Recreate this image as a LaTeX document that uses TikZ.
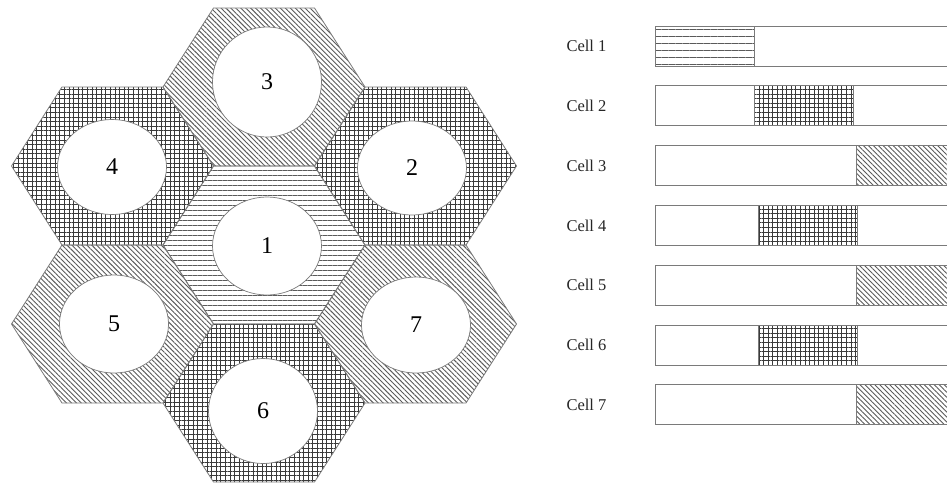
\documentclass[tikz,border=0pt]{standalone}
\usepackage{fontspec}
\setmainfont{Liberation Serif}
\usepackage{xcolor}
\definecolor{celledge}{HTML}{7A7A7A}
\definecolor{hatchdark}{HTML}{3A3A3A}
\definecolor{hatchmid}{HTML}{5A5A5A}
\usetikzlibrary{patterns.meta, shapes.geometric}

\begin{document}
\begin{tikzpicture}[x=1pt, y=-1pt,
  hstripes/.style={pattern={Lines[angle=0, distance=5pt, line width=0.9pt]}, pattern color=hatchmid},
  barstripes/.style={pattern={Lines[angle=0, distance=7pt, line width=1pt]}, pattern color=hatchmid},
  gridded/.style={pattern={Hatch[angle=0, distance=4.6pt, line width=0.9pt]}, pattern color=hatchdark},
  slanted/.style={pattern={Lines[angle=-45, distance=3.5pt, line width=0.9pt]}, pattern color=hatchmid},
  celltext/.style={font=\fontsize{16.5}{18}\selectfont, text=black!85},
  hole/.style={ellipse, draw=celledge, line width=0.7pt, fill=white, minimum width=109pt, inner sep=0pt, font=\fontsize{24}{28}\selectfont}]
  \fill[white] (0,0) rectangle (947,485);
  \clip (0,0) rectangle (947,485);
  % hexagonal cluster
  \foreach \n/\hx/\hy/\ex/\ey/\eh/\pat in {1/264/245/267/246/98/hstripes, 2/415.5/166/412/168/94/gridded, 3/264/87/267/82/110/slanted, 4/112.5/166/112/167/95/gridded, 5/112.5/324/114/324/98/slanted, 6/264/403/263/411/105/gridded, 7/415.5/324/416/325/96/slanted}
  {
    \draw[draw=celledge, line width=0.8pt, \pat] (\hx-101,\hy) -- (\hx-50.5,\hy-79) -- (\hx+50.5,\hy-79) -- (\hx+101,\hy) -- (\hx+50.5,\hy+79) -- (\hx-50.5,\hy+79) -- cycle;
    \node[hole, minimum height=\eh pt] (hole\n) at (\ex,\ey) {\n};
  }
  % channel bars
  \foreach \i/\a/\b/\pat in {1/655/754/barstripes, 2/754/853/gridded, 3/856/960/slanted, 4/758/857/gridded, 5/856/960/slanted, 6/758/857/gridded, 7/856/960/slanted}
  {
    \pgfmathsetmacro\bary{26+59.8*(\i-1)}
    \draw[draw=celledge, line width=0.9pt, fill=white] (655,\bary) rectangle (960,\bary+40);
    \draw[draw=celledge, line width=0.9pt, \pat] (\a,\bary) rectangle (\b,\bary+40);
    \node[celltext, anchor=west] (lab\i) at (563,\bary+20) {Cell \i};
  }
\end{tikzpicture}
\end{document}
